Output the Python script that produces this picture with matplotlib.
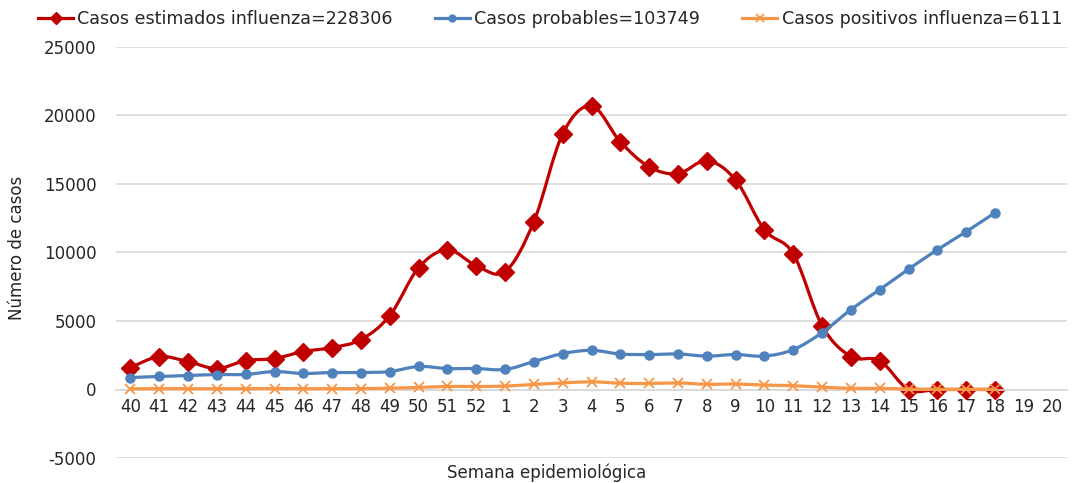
import matplotlib
matplotlib.use("Agg")
import matplotlib.pyplot as plt
from matplotlib.path import Path
from matplotlib.patches import PathPatch
from matplotlib.lines import Line2D
import numpy as np

plt.rcParams['font.family'] = ['DejaVu Sans']
plt.rcParams['axes.unicode_minus'] = False

weeks = ["40", "41", "42", "43", "44", "45", "46", "47", "48", "49", "50", "51", "52",
         "1", "2", "3", "4", "5", "6", "7", "8", "9", "10", "11", "12", "13", "14",
         "15", "16", "17", "18", "19", "20"]

estimados = [1600, 2400, 2040, 1530, 2110, 2260, 2770, 3060, 3640, 5390, 8890, 10200, 9040,
             8600, 12250, 18660, 20700, 18080, 16250, 15750, 16700, 15300, 11660, 9910, 4660,
             2400, 2110, 0, 0, 0, 0]
probables = [875, 950, 1020, 1090, 1100, 1310, 1170, 1240, 1240, 1310, 1680, 1530, 1530,
             1460, 2040, 2620, 2860, 2590, 2550, 2590, 2440, 2550, 2440, 2910, 4150,
             5830, 7290, 8780, 10200, 11520, 12900]
positivos = [50, 60, 60, 55, 60, 65, 60, 60, 65, 100, 150, 220, 220,
             250, 370, 480, 560, 460, 440, 480, 380, 400, 320, 280, 170,
             90, 80, 40, 20, 20, 20]

labels = ["Casos estimados influenza=228306", "Casos probables=103749",
          "Casos positivos influenza=6111"]

RED = "#C00000"
BLUE = "#4F81BD"
ORANGE = "#F79646"
GRID = "#D9D9D9"
TXT = "#262626"

fig = plt.figure(figsize=(10.77, 4.83), dpi=100)
ax = fig.add_axes([116 / 1077, 25 / 483, (1067 - 116) / 1077, (458 - 47) / 483])


def smooth_path(xs, ys):
    pts = np.column_stack([xs, ys]).astype(float)
    n = len(pts)
    verts = [pts[0]]
    codes = [Path.MOVETO]
    for i in range(n - 1):
        p0 = pts[i - 1] if i > 0 else pts[i]
        p1 = pts[i]
        p2 = pts[i + 1]
        p3 = pts[i + 2] if i + 2 < n else pts[i + 1]
        c1 = p1 + (p2 - p0) / 6.0
        c2 = p2 - (p3 - p1) / 6.0
        verts += [c1, c2, p2]
        codes += [Path.CURVE4] * 3
    return Path(verts, codes)


series = [
    (estimados, RED, "D", 9.5, 1),
    (probables, BLUE, "o", 6.5, 2),
    (positivos, ORANGE, "x", 6.5, 3),
]

for vals, col, mk, ms, z in series:
    x = np.arange(len(vals))
    patch = PathPatch(smooth_path(x, vals), facecolor="none", edgecolor=col,
                      lw=2.3, zorder=z, capstyle="round", joinstyle="round")
    ax.add_patch(patch)
    ax.plot(x, vals, linestyle="none", marker=mk, ms=ms, color=col,
            mec=col, mew=1.3 if mk == "x" else 1, zorder=z + 0.5)

ax.set_xlim(-0.5, len(weeks) - 0.5)
ax.set_ylim(-5000, 25000)
ax.set_yticks(np.arange(-5000, 25001, 5000))
ax.set_xticks(np.arange(len(weeks)))
ax.set_xticklabels(weeks)
ax.grid(axis="y", color=GRID, lw=1.2)
ax.set_axisbelow(True)
for s in ["top", "right", "left"]:
    ax.spines[s].set_visible(False)
ax.spines["bottom"].set_position(("data", 0))
ax.spines["bottom"].set_color(GRID)
ax.spines["bottom"].set_linewidth(1.2)
ax.tick_params(axis="both", length=0, labelsize=12, colors=TXT)
ax.tick_params(axis="x", pad=6)
ax.tick_params(axis="y", pad=14)

fig.text(17 / 1077, 1 - 248 / 483, "Número de casos", rotation=90,
         ha="center", va="center", fontsize=12, color=TXT)
fig.text(547 / 1077, 1 - 473 / 483, "Semana epidemiológica",
         ha="center", va="center", fontsize=12, color=TXT)

handles = [
    Line2D([], [], color=RED, lw=2.3, marker="D", ms=6),
    Line2D([], [], color=BLUE, lw=2.3, marker="o", ms=5),
    Line2D([], [], color=ORANGE, lw=2.3, marker="x", ms=6, mew=1.3),
]
fig.legend(handles, labels, loc="center left", bbox_to_anchor=(38 / 1077, 1 - 19 / 483),
           ncol=3, frameon=False, fontsize=12.6, handlelength=2.0, handletextpad=0.25,
           columnspacing=2.4, borderaxespad=0, borderpad=0, labelcolor=TXT)

fig.savefig("out.png", dpi=100)
